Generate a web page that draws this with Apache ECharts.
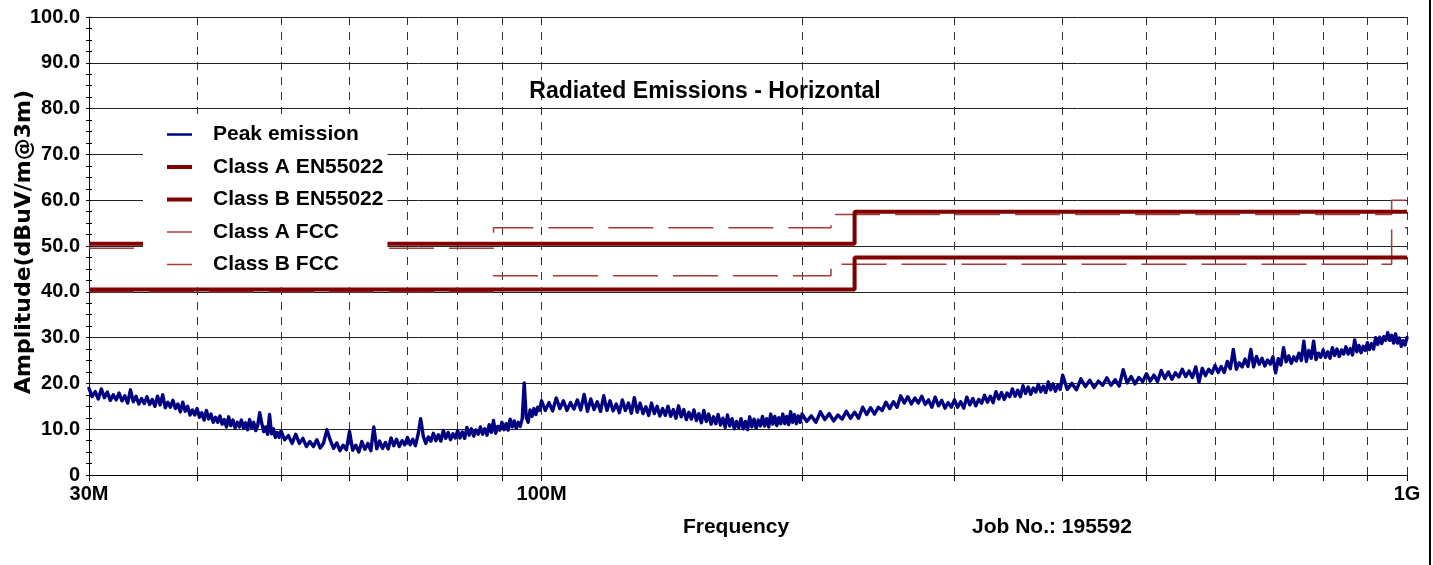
<!DOCTYPE html>
<html>
<head>
<meta charset="utf-8">
<script src="https://cdn.jsdelivr.net/npm/echarts@6/dist/echarts.min.js"></script>
<style>
  html, body { margin: 0; padding: 0; background: #fff; }
  #chart { width: 1433px; height: 565px; }
</style>
</head>
<body>
<div id="chart"></div>
<script>
// Sweep frequencies (MHz) of the peak-detector scan
const freqMHz = [
  30, 30.25, 30.5, 30.75, 31, 31.25, 31.5, 31.75, 32, 32.25,
  32.5, 32.75, 33, 33.25, 33.5, 33.75, 34, 34.25, 34.5, 34.75,
  35, 35.25, 35.5, 35.75, 36, 36.25, 36.5, 36.75, 37, 37.25,
  37.5, 37.75, 38, 38.25, 38.5, 38.75, 39, 39.25, 39.5, 39.75,
  40, 40.25, 40.5, 40.75, 41, 41.25, 41.5, 41.75, 42, 42.25,
  42.5, 42.75, 43, 43.25, 43.5, 43.75, 44, 44.25, 44.5, 44.75,
  45, 45.25, 45.5, 45.75, 46, 46.25, 46.5, 46.75, 47, 47.25,
  47.5, 47.75, 48, 48.25, 48.5, 48.75, 49, 49.25, 49.5, 49.75,
  50, 50.5, 51, 51.5, 52, 52.5, 53, 53.5, 54, 54.5,
  55, 55.5, 56, 56.5, 57, 57.5, 58, 58.5, 59, 59.5,
  60, 60.5, 61, 61.5, 62, 62.5, 63, 63.5, 64, 64.5,
  65, 65.5, 66, 66.5, 67, 67.5, 68, 68.5, 69, 69.5,
  70, 70.5, 71, 71.5, 72, 72.5, 73, 73.5, 74, 74.5,
  75, 75.5, 76, 76.5, 77, 77.5, 78, 78.5, 79, 79.5,
  80, 80.5, 81, 81.5, 82, 82.5, 83, 83.5, 84, 84.5,
  85, 85.5, 86, 86.5, 87, 87.5, 88, 88.5, 89, 89.5,
  90, 90.5, 91, 91.5, 92, 92.5, 93, 93.5, 94, 94.5,
  95, 95.5, 96, 96.5, 97, 97.5, 98, 98.5, 99, 99.5,
  100, 101, 102, 103, 104, 105, 106, 107, 108, 109,
  110, 111, 112, 113, 114, 115, 116, 117, 118, 119,
  120, 121, 122, 123, 124, 125, 126, 127, 128, 129,
  130, 131, 132, 133, 134, 135, 136, 137, 138, 139,
  140, 141, 142, 143, 144, 145, 146, 147, 148, 149,
  150, 151, 152, 153, 154, 155, 156, 157, 158, 159,
  160, 161, 162, 163, 164, 165, 166, 167, 168, 169,
  170, 171, 172, 173, 174, 175, 176, 177, 178, 179,
  180, 181, 182, 183, 184, 185, 186, 187, 188, 189,
  190, 191, 192, 193, 194, 195, 196, 197, 198, 199,
  200, 202.5, 205, 207.5, 210, 212.5, 215, 217.5, 220, 222.5,
  225, 227.5, 230, 232.5, 235, 237.5, 240, 242.5, 245, 247.5,
  250, 252.5, 255, 257.5, 260, 262.5, 265, 267.5, 270, 272.5,
  275, 277.5, 280, 282.5, 285, 287.5, 290, 292.5, 295, 297.5,
  300, 302.5, 305, 307.5, 310, 312.5, 315, 317.5, 320, 322.5,
  325, 327.5, 330, 332.5, 335, 337.5, 340, 342.5, 345, 347.5,
  350, 352.5, 355, 357.5, 360, 362.5, 365, 367.5, 370, 372.5,
  375, 377.5, 380, 382.5, 385, 387.5, 390, 392.5, 395, 397.5,
  400, 405, 410, 415, 420, 425, 430, 435, 440, 445,
  450, 455, 460, 465, 470, 475, 480, 485, 490, 495,
  500, 505, 510, 515, 520, 525, 530, 535, 540, 545,
  550, 555, 560, 565, 570, 575, 580, 585, 590, 595,
  600, 605, 610, 615, 620, 625, 630, 635, 640, 645,
  650, 655, 660, 665, 670, 675, 680, 685, 690, 695,
  700, 705, 710, 715, 720, 725, 730, 735, 740, 745,
  750, 755, 760, 765, 770, 775, 780, 785, 790, 795,
  800, 805, 810, 815, 820, 825, 830, 835, 840, 845,
  850, 855, 860, 865, 870, 875, 880, 885, 890, 895,
  900, 905, 910, 915, 920, 925, 930, 935, 940, 945,
  950, 955, 960, 965, 970, 975, 980, 985, 990, 995,
  1000
];

// Peak emission level (dBuV/m @ 3 m) at each sweep frequency
const peakDbuv = [
  18.9, 17.1, 18.2, 16.6, 18.8, 16.9, 18.1, 16.3, 17.5, 16.4,
  17.9, 16.2, 17.3, 15.7, 18.6, 16.0, 17.2, 15.5, 16.7, 15.6,
  17.1, 15.4, 16.5, 15.0, 17.2, 15.3, 17.5, 14.7, 15.9, 14.8,
  16.3, 14.5, 15.5, 13.8, 15.9, 13.9, 15.0, 13.1, 14.2, 13.1,
  14.5, 12.6, 13.6, 12.0, 14.1, 12.2, 13.3, 11.5, 12.6, 11.5,
  12.9, 11.1, 12.1, 10.5, 12.7, 10.8, 12.0, 10.3, 11.5, 10.5,
  12.0, 10.3, 11.4, 9.9, 12.1, 10.3, 11.5, 9.7, 10.9, 13.6,
  11.3, 9.5, 10.5, 8.9, 13.2, 9.0, 10.1, 8.2, 9.3, 8.2,
  9.6, 7.7, 8.6, 6.9, 8.9, 6.9, 8.0, 6.2, 7.3, 6.2,
  7.7, 5.9, 7.0, 9.9, 7.6, 5.8, 7.0, 5.3, 6.5, 5.5,
  9.5, 5.4, 6.5, 5.0, 7.3, 5.6, 6.9, 5.3, 10.5, 5.7,
  7.4, 5.8, 7.1, 5.7, 8.1, 6.4, 7.8, 6.2, 7.5, 6.6,
  8.2, 6.6, 7.8, 6.4, 8.8, 12.3, 8.5, 6.9, 8.3, 7.4,
  9.1, 7.5, 8.8, 7.4, 9.7, 8.0, 9.3, 7.7, 9.0, 8.1,
  9.7, 8.1, 9.4, 8.0, 10.4, 8.7, 10.1, 8.5, 9.8, 8.9,
  10.5, 8.9, 10.1, 8.7, 11.0, 9.3, 11.9, 9.1, 10.6, 9.8,
  11.5, 9.9, 11.2, 9.8, 12.2, 10.5, 11.8, 10.2, 11.5, 10.6,
  12.3, 20.1, 12.6, 11.5, 14.2, 12.8, 14.5, 13.2, 14.8, 14.1,
  16.2, 14.1, 15.8, 14.0, 16.8, 14.5, 16.2, 14.1, 15.8, 14.4,
  16.4, 14.2, 17.6, 13.9, 16.6, 14.3, 16.0, 13.9, 17.3, 14.1,
  16.2, 14.0, 15.5, 13.6, 16.4, 14.1, 15.7, 13.5, 16.9, 13.7,
  15.7, 13.4, 14.9, 13.0, 15.7, 13.4, 15.0, 12.9, 14.5, 13.0,
  15.0, 12.8, 14.3, 12.4, 15.1, 12.7, 14.3, 12.1, 13.7, 12.2,
  14.2, 11.9, 13.4, 11.4, 14.1, 11.7, 13.3, 11.1, 12.7, 11.2,
  13.2, 10.9, 12.4, 10.4, 13.1, 10.7, 12.3, 10.1, 11.7, 10.3,
  12.3, 10.1, 11.7, 9.9, 12.7, 10.5, 12.2, 10.2, 12.0, 10.7,
  12.8, 10.7, 12.3, 10.5, 13.3, 11.1, 12.8, 10.8, 12.5, 11.2,
  13.3, 11.2, 12.8, 11.0, 13.8, 11.5, 13.2, 11.2, 12.9, 11.5,
  13.3, 11.7, 12.9, 11.5, 13.8, 12.1, 13.4, 11.8, 13.1, 12.2,
  13.9, 12.4, 13.7, 12.4, 14.8, 13.2, 14.7, 13.3, 14.8, 14.1,
  15.9, 14.5, 16.0, 14.8, 17.3, 15.7, 17.1, 15.5, 16.8, 15.7,
  17.2, 15.4, 16.4, 14.8, 17.0, 15.1, 16.3, 14.6, 15.8, 14.8,
  16.4, 14.8, 16.0, 14.6, 17.0, 15.3, 16.7, 15.1, 16.5, 15.7,
  17.4, 15.9, 17.2, 15.8, 18.2, 16.6, 18.0, 16.5, 17.9, 17.1,
  18.8, 17.2, 18.5, 17.1, 19.5, 17.8, 19.2, 17.6, 19.0, 18.1,
  19.8, 18.2, 19.4, 18.0, 20.3, 18.6, 19.9, 18.3, 19.6, 18.7,
  21.8, 18.7, 20.0, 18.6, 21.0, 19.3, 20.7, 19.1, 20.5, 19.6,
  21.2, 19.6, 20.8, 19.4, 23.0, 20.1, 21.5, 19.9, 21.3, 20.4,
  22.1, 20.5, 21.8, 20.4, 22.8, 21.1, 22.5, 20.9, 22.3, 21.4,
  23.1, 21.5, 22.7, 21.3, 23.6, 20.3, 23.3, 21.7, 23.1, 22.2,
  23.9, 22.4, 23.7, 22.4, 24.8, 23.2, 27.4, 23.1, 24.5, 23.6,
  25.3, 23.7, 27.4, 23.6, 25.9, 24.2, 25.5, 23.8, 25.1, 24.2,
  25.8, 22.3, 25.4, 24.0, 27.8, 24.7, 26.0, 24.4, 25.8, 24.9,
  26.6, 25.0, 29.2, 24.8, 27.2, 25.5, 29.2, 25.2, 26.6, 25.7,
  27.3, 25.7, 26.9, 25.5, 27.8, 26.1, 27.5, 25.9, 27.3, 26.4,
  28.0, 26.4, 27.6, 26.2, 29.5, 26.9, 28.3, 26.7, 28.1, 27.2,
  28.9, 27.4, 28.7, 27.5, 30.0, 28.5, 30.1, 28.7, 30.2, 29.4,
  31.1, 29.4, 30.5, 28.8, 30.8, 28.8, 29.9, 28.1, 29.3, 28.4,
  30.0
];

// Limit lines: band edges (MHz) and the level that applies inside each band
const enClassAEdges = [30, 230, 1000];
const enClassALevels = [50.5, 57.5];
const enClassBEdges = [30, 230, 1000];
const enClassBLevels = [40.5, 47.5];
const fccClassAEdges = [30, 88, 216, 960, 1000];
const fccClassALevels = [49.5, 54.0, 56.9, 60.0];
const fccClassBEdges = [30, 88, 216, 960, 1000];
const fccClassBLevels = [40.0, 43.5, 46.0, 54.0];

// Axis ticks and labels
const freqGridMHz = [30, 40, 50, 60, 70, 80, 90, 100, 200, 300, 400, 500, 600, 700, 800, 900, 1000];
const freqLabelMHz = [30, 100, 1000];
const freqLabelText = ['30M', '100M', '1G'];

const seriesNames = ['Peak emission', 'Class A EN55022', 'Class B EN55022', 'Class A FCC', 'Class B FCC'];

const ARIAL = '"Liberation Sans", Arial, Helvetica, sans-serif';

// Turn band edges + levels into a stepped polyline
function stepPoints(edges, levels) {
  const pts = [];
  levels.forEach((lv, i) => {
    pts.push([edges[i], lv]);
    pts.push([edges[i + 1], lv]);
  });
  return pts;
}

const peakData = freqMHz.map((f, i) => [f, peakDbuv[i]]);

const traceColor = '#000080';
const enColor = '#800000';
const fccColor = '#a83a3a';

// Legend swatches: plain bars whose thickness follows each line's weight
const legendIcons = [
  'path://M0,0H25V2.5H0Z',
  'path://M0,0H25V4H0Z',
  'path://M0,0H25V4H0Z',
  'path://M0,0H25V1.5H0Z',
  'path://M0,0H25V1.5H0Z'
];

const chart = echarts.init(document.getElementById('chart'), null, { renderer: 'canvas' });

const yAxisBase = {
  type: 'value', min: 0, max: 100, interval: 10,
  gridIndex: 0, position: 'left'
};

chart.setOption({
  animation: false,
  backgroundColor: '#fff',
  grid: { left: 89, top: 17, width: 1318, height: 458, containLabel: false },
  legend: {
    orient: 'vertical',
    left: 143, top: 114,
    padding: [10, 4, 8, 24],
    itemGap: 11.5,
    itemWidth: 25,
    itemHeight: 14,
    backgroundColor: '#fff',
    z: 10,
    selectedMode: false,
    itemStyle: { borderWidth: 0 },
    data: seriesNames.map((n, i) => ({ name: n, icon: legendIcons[i] })),
    textStyle: {
      fontFamily: ARIAL, fontWeight: 'bold', fontSize: 21, color: '#000',
      padding: [0, 0, 0, 16]
    }
  },
  xAxis: {
    type: 'log', logBase: 10, min: 30, max: 1000,
    axisLine: { show: true, lineStyle: { color: '#000', width: 1 } },
    axisTick: { show: true, customValues: freqGridMHz, length: 6, lineStyle: { color: '#000' } },
    axisLabel: {
      customValues: freqLabelMHz,
      formatter: v => {
        const idx = freqLabelMHz.findIndex(m => Math.abs(m - v) < 0.5);
        return idx >= 0 ? freqLabelText[idx] : '';
      },
      fontFamily: ARIAL, fontWeight: 'bold', fontSize: 20, color: '#000', margin: 9
    },
    splitLine: { show: true, lineStyle: { type: [8, 7], color: '#333', width: 1 } },
    name: 'Frequency',
    nameLocation: 'middle',
    nameGap: 42,
    nameTextStyle: { fontFamily: ARIAL, fontWeight: 'bold', fontSize: 21, color: '#000', padding: [0, 24, 0, 0] }
  },
  yAxis: [
    Object.assign({}, yAxisBase, {
      axisLine: { show: true, lineStyle: { color: '#000', width: 1 } },
      axisTick: { show: true, inside: false, length: 3, lineStyle: { color: '#000' } },
      minorTick: { show: true, splitNumber: 4, length: 3, lineStyle: { color: '#000' } },
      axisLabel: {
        formatter: v => (v === 0 ? '0' : v.toFixed(1)),
        fontFamily: ARIAL, fontWeight: 'bold', fontSize: 20, color: '#000', margin: 9
      },
      splitLine: { show: true, lineStyle: { color: '#222', width: 1 } }
    }),
    Object.assign({}, yAxisBase, {
      axisLine: { show: false },
      axisTick: { show: true, inside: true, length: 3, lineStyle: { color: '#000' } },
      minorTick: { show: true, splitNumber: 4, length: 3, lineStyle: { color: '#000' } },
      axisLabel: { show: false },
      splitLine: { show: false }
    })
  ],
  series: [
    {
      name: seriesNames[0], type: 'line', data: peakData, symbol: 'none', z: 3,
      lineStyle: { color: traceColor, width: 3.4, join: 'round', cap: 'round' },
      itemStyle: { color: traceColor }
    },
    {
      name: seriesNames[1], type: 'line', data: stepPoints(enClassAEdges, enClassALevels), symbol: 'none', z: 5,
      lineStyle: { color: enColor, width: 4 }, itemStyle: { color: enColor }
    },
    {
      name: seriesNames[2], type: 'line', data: stepPoints(enClassBEdges, enClassBLevels), symbol: 'none', z: 5,
      lineStyle: { color: enColor, width: 4 }, itemStyle: { color: enColor }
    },
    {
      name: seriesNames[3], type: 'line', data: stepPoints(fccClassAEdges, fccClassALevels), symbol: 'none', z: 4,
      lineStyle: { color: fccColor, width: 1.5, type: [45, 15] }, itemStyle: { color: fccColor }
    },
    {
      name: seriesNames[4], type: 'line', data: stepPoints(fccClassBEdges, fccClassBLevels), symbol: 'none', z: 4,
      lineStyle: { color: fccColor, width: 1.5, type: [45, 15] }, itemStyle: { color: fccColor }
    }
  ],
  graphic: [
    {
      type: 'text', x: 705, y: 92, z: 20,
      style: { text: 'Radiated Emissions - Horizontal', font: 'bold 23px ' + ARIAL, fill: '#000', align: 'center', verticalAlign: 'middle' }
    },
    {
      type: 'text', x: 972, y: 527, z: 20,
      style: { text: 'Job No.: 195592', font: 'bold 21px ' + ARIAL, fill: '#000', align: 'left', verticalAlign: 'middle' }
    },
    {
      type: 'text', x: 24, y: 242, rotation: Math.PI / 2, z: 20,
      style: { text: 'Amplitude(dBuV/m@3m)', font: 'bold 22px "DejaVu Sans", sans-serif', fill: '#000', align: 'center', verticalAlign: 'middle' }
    },
    {
      type: 'line', z: 20,
      shape: { x1: 1430, y1: 0, x2: 1430, y2: 565 },
      style: { stroke: '#000', lineWidth: 2 }
    }
  ]
});
</script>
</body>
</html>
